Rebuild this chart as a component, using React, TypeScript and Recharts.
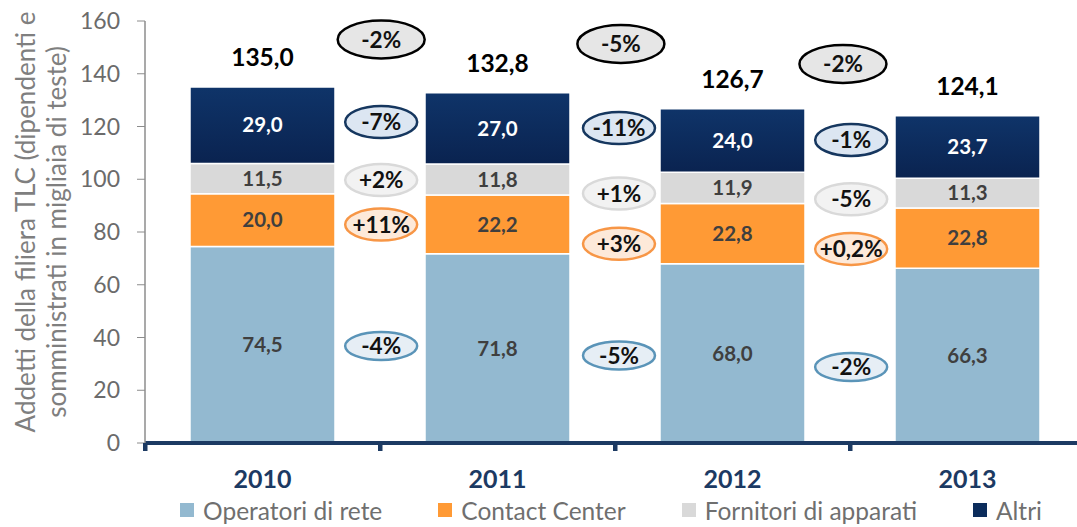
import React from "react";
import {
  BarChart,
  Bar,
  XAxis,
  YAxis,
  LabelList,
  Legend,
  ReferenceDot,
  Label,
} from "recharts";

const years = ["2010", "2011", "2012", "2013"];
const operatori = [74.5, 71.8, 68.0, 66.3];
const contactCenter = [20.0, 22.2, 22.8, 22.8];
const fornitori = [11.5, 11.8, 11.9, 11.3];
const altri = [29.0, 27.0, 24.0, 23.7];
const yTicks = [0, 20, 40, 60, 80, 100, 120, 140, 160];

// variazioni anno su anno
const changeTotal = ["-2%", "-5%", "-2%"];
const changeAltri = ["-7%", "-11%", "-1%"];
const changeFornitori = ["+2%", "+1%", "-5%"];
const changeContact = ["+11%", "+3%", "+0,2%"];
const changeOperatori = ["-4%", "-5%", "-2%"];

// bubble anchors: y on the value axis, x nudge as a fraction of one category
const bubbleNudgeTop = [0.005, 0.025, -0.03];
const bubbleNudge = [0.005, 0.017, 0.005];
const bubbleYTotal = [153, 151.3, 143.7];
const bubbleYAltri = [121.7, 119.4, 114.9];
const bubbleYFornitori = [99.7, 94.6, 92.4];
const bubbleYContact = [82.8, 75.5, 73.6];
const bubbleYOperatori = [36.8, 33.2, 28.8];

const fmt = (v: number) => v.toFixed(1).replace(".", ",");

const data = years.map((year, i) => ({
  year,
  operatori: operatori[i],
  contact: contactCenter[i],
  fornitori: fornitori[i],
  altri: altri[i],
  total: operatori[i] + contactCenter[i] + fornitori[i] + altri[i],
}));

const FONT = "Lato, 'Open Sans', sans-serif";
const NAVY = "#1c3a63";

const CHART_W = 1090;
const Y_W = 145;
const M_RIGHT = 5;
const BAND = (CHART_W - Y_W - M_RIGHT) / years.length;

const legendItems = [
  { name: "Operatori di rete", color: "#93b9d0" },
  { name: "Contact Center", color: "#ff9a35" },
  { name: "Fornitori di apparati", color: "#d9d9d9" },
  { name: "Altri", color: "#0c2d5c" },
];

const groups = [
  { texts: changeTotal, nudge: bubbleNudgeTop, ys: bubbleYTotal, w: 87, h: 38, fill: "#e6e6e6", stroke: "#000", sw: 2.5 },
  { texts: changeAltri, nudge: bubbleNudge, ys: bubbleYAltri, w: 72, h: 32, fill: "#dce6f2", stroke: "#16375f", sw: 2.5 },
  { texts: changeFornitori, nudge: bubbleNudge, ys: bubbleYFornitori, w: 72, h: 32, fill: "#f2f2f2", stroke: "#d9d9d9", sw: 2.5 },
  { texts: changeContact, nudge: bubbleNudge, ys: bubbleYContact, w: 72, h: 32, fill: "#fde9d9", stroke: "#f79646", sw: 2.5 },
  { texts: changeOperatori, nudge: bubbleNudge, ys: bubbleYOperatori, w: 72, h: 28, fill: "#e6eef5", stroke: "#5a94b8", sw: 2.5 },
];

function YLabel(props: any) {
  const vb = props.viewBox || { x: 0, y: 21, width: 145, height: 422 };
  const cy = vb.y + vb.height / 2;
  const lines = [
    { t: "Addetti della filiera TLC (dipendenti e", x: 25, y: cy - 10 },
    { t: "somministrati in migliaia di teste)", x: 56, y: cy },
  ];
  return (
    <g>
      {lines.map((l) => (
        <text
          key={l.t}
          x={l.x}
          y={l.y}
          transform={`rotate(-90, ${l.x}, ${l.y})`}
          textAnchor="middle"
          dominantBaseline="central"
          fontFamily={FONT}
          fontSize={26}
          fill="#7f7f7f"
        >
          {l.t}
        </text>
      ))}
    </g>
  );
}

function LegendContent() {
  return (
    <div
      style={{
        display: "flex",
        justifyContent: "center",
        alignItems: "center",
        gap: 56,
        height: 34,
        fontFamily: FONT,
        fontSize: 24.5,
        color: "#6f6f6f",
      }}
    >
      {legendItems.map((it) => (
        <div key={it.name} style={{ display: "flex", alignItems: "center" }}>
          <span
            style={{ width: 14, height: 14, background: it.color, marginRight: 9, display: "inline-block" }}
          />
          <span>{it.name}</span>
        </div>
      ))}
    </div>
  );
}

export default function App() {
  return (
    <div
      style={{
        position: "fixed",
        left: 0,
        top: 0,
        width: 1077,
        height: 527,
        overflow: "hidden",
        background: "#fff",
      }}
    >
      <BarChart
        width={CHART_W}
        height={527}
        data={data}
        margin={{ top: 21, right: M_RIGHT, left: 0, bottom: 0 }}
      >
        <defs>
          <linearGradient id="navyGrad" x1="0" y1="0" x2="0" y2="1">
            <stop offset="0%" stopColor="#0f3469" />
            <stop offset="100%" stopColor="#0a2350" />
          </linearGradient>
        </defs>
        <XAxis
          dataKey="year"
          height={50}
          axisLine={{ stroke: NAVY, strokeWidth: 4 }}
          tickLine={false}
          tickSize={6}
          tickMargin={21}
          tick={{ fill: NAVY, fontSize: 25, fontWeight: 700, fontFamily: FONT }}
        />
        <YAxis
          width={Y_W}
          domain={[0, 160]}
          ticks={yTicks}
          interval={0}
          axisLine={{ stroke: "#8c8c8c", strokeWidth: 1.5 }}
          tickLine={{ stroke: "#8c8c8c" }}
          tickSize={8}
          tickMargin={17}
          tick={{ fill: "#6b6b6b", fontSize: 23, fontFamily: FONT }}
        >
          <Label content={<YLabel />} />
        </YAxis>
        <Legend verticalAlign="bottom" wrapperStyle={{ left: 145, width: 932 }} content={<LegendContent />} />
        <Bar dataKey="operatori" stackId="a" barSize={145} fill="#93b9d0" stroke="#fff" strokeWidth={1.5} isAnimationActive={false}>
          <LabelList dataKey="operatori" position="center" formatter={(v: any) => fmt(Number(v))} fill="#3f3f3f" fontSize={20.5} fontWeight={700} fontFamily={FONT} />
        </Bar>
        <Bar dataKey="contact" stackId="a" barSize={145} fill="#ff9a35" stroke="#fff" strokeWidth={1.5} isAnimationActive={false}>
          <LabelList dataKey="contact" position="center" formatter={(v: any) => fmt(Number(v))} fill="#3f3f3f" fontSize={20.5} fontWeight={700} fontFamily={FONT} />
        </Bar>
        <Bar dataKey="fornitori" stackId="a" barSize={145} fill="#d9d9d9" stroke="#fff" strokeWidth={1.5} isAnimationActive={false}>
          <LabelList dataKey="fornitori" position="center" formatter={(v: any) => fmt(Number(v))} fill="#3f3f3f" fontSize={20.5} fontWeight={700} fontFamily={FONT} />
        </Bar>
        <Bar dataKey="altri" stackId="a" barSize={145} fill="url(#navyGrad)" stroke="#fff" strokeWidth={1.5} isAnimationActive={false}>
          <LabelList dataKey="altri" position="center" formatter={(v: any) => fmt(Number(v))} fill="#ffffff" fontSize={20.5} fontWeight={700} fontFamily={FONT} />
          <LabelList dataKey="total" position="top" offset={21} formatter={(v: any) => fmt(Number(v))} fill="#000" fontSize={24.5} fontWeight={700} fontFamily={FONT} />
        </Bar>
        {/* tick marks at the category boundaries */}
        {years.map((yr) => (
          <ReferenceDot
            key={`tick-${yr}`}
            x={yr}
            y={0}
            ifOverflow="visible"
            shape={(p: any) => <rect x={p.cx - BAND / 2 - 2} y={p.cy} width={4.5} height={8} fill={NAVY} />}
          />
        ))}
        {groups.flatMap((g, gi) =>
          g.texts.map((t, i) => (
            <ReferenceDot
              key={`b-${gi}-${i}`}
              x={years[i]}
              y={g.ys[i]}
              ifOverflow="visible"
              shape={(p: any) => {
                const cx = p.cx + BAND / 2 + g.nudge[i] * BAND;
                return (
                  <g>
                    <ellipse cx={cx} cy={p.cy} rx={g.w / 2} ry={g.h / 2} fill={g.fill} stroke={g.stroke} strokeWidth={g.sw} />
                    <text x={cx} y={p.cy} dy="0.36em" textAnchor="middle" fontFamily={FONT} fontSize={22.5} fontWeight={700} fill="#111">
                      {t}
                    </text>
                  </g>
                );
              }}
            />
          ))
        )}
      </BarChart>
    </div>
  );
}
